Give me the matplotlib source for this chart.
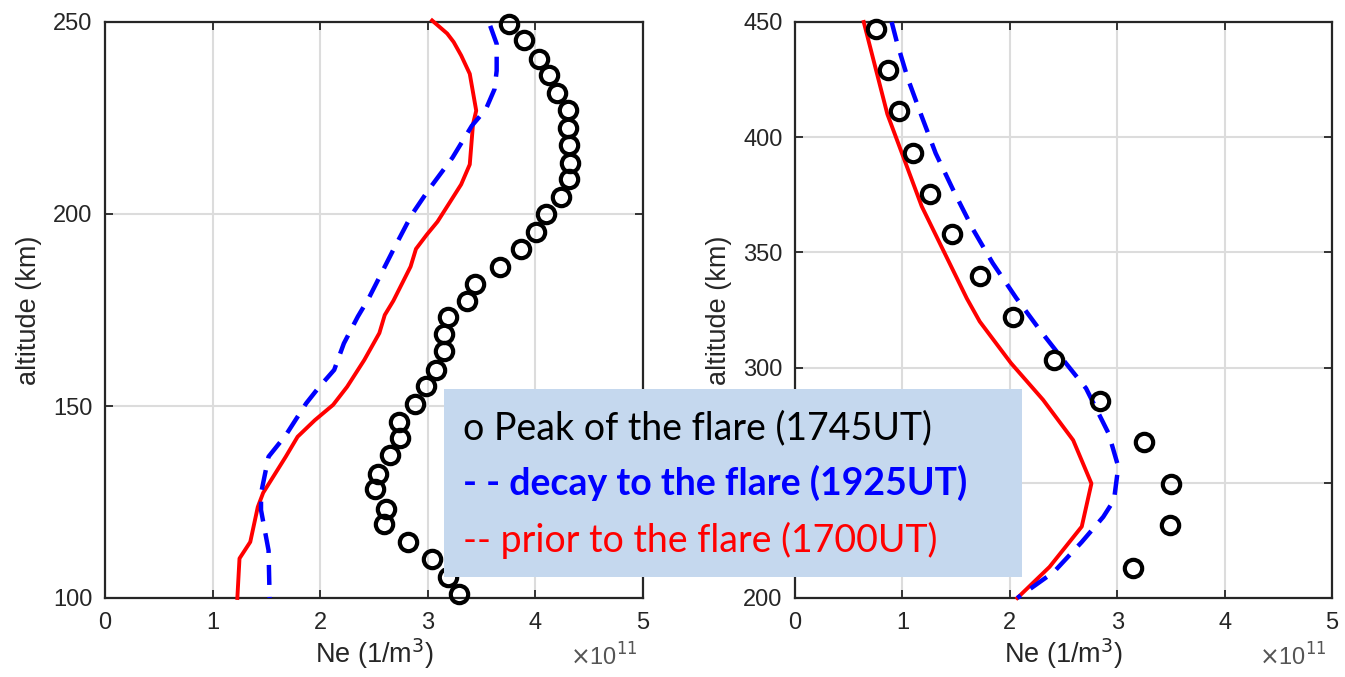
import matplotlib
matplotlib.use("Agg")
import matplotlib.pyplot as plt
from matplotlib.patches import Rectangle

plt.rcParams["font.family"] = ["Liberation Sans", "DejaVu Sans"]

# ── Left panel (100-250 km), Ne in units of 1e11 m^-3 ─────────────────────
peak_alt_l = [249.6, 245.2, 240.4, 236.2, 231.5, 227.1, 222.3, 218.0, 213.4, 209.0,
              204.4, 200.1, 195.3, 190.9, 186.1, 181.9, 177.3, 173.3, 168.7, 164.2,
              159.4, 155.2, 150.5, 145.9, 141.6, 137.2, 132.4, 128.3, 123.3, 119.2,
              114.6, 110.1, 105.5, 101.1]
peak_ne_l = [3.75, 3.89, 4.03, 4.13, 4.20, 4.30, 4.30, 4.31, 4.32, 4.31,
             4.24, 4.10, 4.01, 3.87, 3.67, 3.44, 3.36, 3.19, 3.15, 3.15,
             3.08, 2.98, 2.88, 2.73, 2.74, 2.65, 2.54, 2.51, 2.61, 2.59,
             2.82, 3.04, 3.19, 3.29]

prior_alt_l = [250.4, 247.0, 244.8, 241.3, 236.5, 226.9, 223.4, 212.9, 207.7, 202.4,
               198.0, 194.6, 190.9, 186.3, 177.4, 173.7, 169.0, 162.0, 155.0, 150.3,
               146.3, 142.0, 136.8, 127.4, 123.7, 114.6, 110.3, 100.0]
prior_ne_l = [3.04, 3.18, 3.24, 3.31, 3.39, 3.45, 3.42, 3.39, 3.31, 3.19,
              3.09, 2.99, 2.89, 2.84, 2.68, 2.60, 2.55, 2.41, 2.25, 2.12,
              1.95, 1.79, 1.68, 1.47, 1.42, 1.35, 1.25, 1.23]

decay_alt_l = [249.0, 244.3, 237.3, 232.5, 227.3, 223.0, 214.7, 206.4, 199.8, 190.7,
               178.0, 173.3, 166.3, 159.4, 154.6, 150.7, 142.4, 136.8, 127.2, 122.9,
               112.4, 100.0]
decay_ne_l = [3.58, 3.64, 3.64, 3.62, 3.54, 3.41, 3.23, 3.01, 2.85, 2.68,
              2.45, 2.35, 2.22, 2.13, 1.98, 1.87, 1.68, 1.52, 1.45, 1.45,
              1.52, 1.53]

# ── Right panel (200-450 km) ──────────────────────────────────────────────
peak_alt_r = [447.1, 429.1, 411.5, 393.3, 375.4, 357.9, 339.6, 321.9, 303.3, 285.5,
              267.8, 249.4, 231.6, 213.2]
peak_ne_r = [0.75, 0.87, 0.97, 1.10, 1.26, 1.46, 1.72, 2.03, 2.41, 2.84,
             3.25, 3.50, 3.49, 3.15]

prior_alt_r = [450, 430, 410, 390, 370, 350, 330, 320, 302, 286, 268.5, 249.7,
               231, 213.5, 200]
prior_ne_r = [0.64, 0.75, 0.86, 1.02, 1.18, 1.39, 1.60, 1.72, 2.01, 2.31, 2.59, 2.76,
              2.67, 2.37, 2.07]

decay_alt_r = [450, 441, 425.5, 409, 393, 376.4, 359.8, 345.4, 330.2, 315.7, 302.6,
               291, 271.4, 257, 242.5, 235.2, 224.3, 211.3, 200]
decay_ne_r = [0.90, 0.95, 1.05, 1.18, 1.31, 1.48, 1.66, 1.84, 2.06, 2.29, 2.51,
              2.71, 2.92, 3.01, 2.97, 2.87, 2.67, 2.41, 2.07]

x_ticks = [0, 1, 2, 3, 4, 5]
y_ticks_l = [100, 150, 200, 250]
y_ticks_r = [200, 250, 300, 350, 400, 450]

legend_lines = ["o Peak of the flare (1745UT)",
                "- - decay to the flare (1925UT)",
                "-- prior to the flare (1700UT)"]

AX_COLOR = "#262626"
TICK_FS = 17
LABEL_FS = 19.5
LEGEND_FS = 27


def style_axes(ax, yticks):
    ax.set_xlim(0, 5)
    ax.set_ylim(yticks[0], yticks[-1])
    ax.set_xticks(x_ticks)
    ax.set_yticks(yticks)
    ax.grid(True, color="#dcdcdc", linewidth=1.5)
    ax.set_axisbelow(True)
    ax.tick_params(direction="in", length=6, width=1.3, top=True, right=True,
                   labelsize=TICK_FS, colors=AX_COLOR)
    ax.tick_params(axis="x", pad=10)
    ax.tick_params(axis="y", pad=9)
    for sp in ax.spines.values():
        sp.set_color(AX_COLOR)
        sp.set_linewidth(1.6)
    ax.set_xlabel("Ne (1/m$^3$)", fontsize=LABEL_FS, color=AX_COLOR, labelpad=2)
    ax.set_ylabel("altitude (km)", fontsize=LABEL_FS, color=AX_COLOR, labelpad=8)
    ax.text(0.99, -0.118, r"$\times$10$^{11}$", transform=ax.transAxes,
            ha="right", va="baseline", fontsize=TICK_FS, color="#555555")


def draw(ax, prior_ne, prior_alt, decay_ne, decay_alt, peak_ne, peak_alt):
    ax.plot(prior_ne, prior_alt, color="#ff0000", linewidth=2.8, zorder=3,
            clip_on=False)
    ax.plot(decay_ne, decay_alt, color="#0000ff", linewidth=3.2, zorder=3,
            dashes=(4.5, 2.7), clip_on=False)
    ax.plot(peak_ne, peak_alt, linestyle="none", marker="o", markersize=12.5,
            markerfacecolor="none", markeredgecolor="black", markeredgewidth=3.0,
            zorder=4, clip_on=False)


fig = plt.figure(figsize=(13.45, 6.77), dpi=100)
ax_l = fig.add_axes([105 / 1345, 79 / 677, 538 / 1345, 576 / 677])
ax_r = fig.add_axes([795 / 1345, 79 / 677, 537 / 1345, 576 / 677])

draw(ax_l, prior_ne_l, prior_alt_l, decay_ne_l, decay_alt_l, peak_ne_l, peak_alt_l)
draw(ax_r, prior_ne_r, prior_alt_r, decay_ne_r, decay_alt_r, peak_ne_r, peak_alt_r)
style_axes(ax_l, y_ticks_l)
style_axes(ax_r, y_ticks_r)

# legend box drawn over both panels
box = Rectangle((444 / 1345, 1 - 577 / 677), 578 / 1345, 188 / 677,
                transform=fig.transFigure, facecolor="#c5d8ee", edgecolor="none",
                zorder=10)
fig.patches.append(box)
legend_font = ["Lato", "DejaVu Sans"]
fig.text(463 / 1345, 1 - 439 / 677, legend_lines[0], color="black", fontsize=LEGEND_FS,
         family=legend_font, va="baseline", zorder=11)
fig.text(463 / 1345, 1 - 495 / 677, legend_lines[1], color="#0000ff", fontsize=LEGEND_FS,
         family=legend_font, fontweight="bold", va="baseline", zorder=11)
fig.text(463 / 1345, 1 - 552 / 677, legend_lines[2], color="#ff0000", fontsize=LEGEND_FS,
         family=legend_font, va="baseline", zorder=11)

fig.savefig("out.png", dpi=100)
